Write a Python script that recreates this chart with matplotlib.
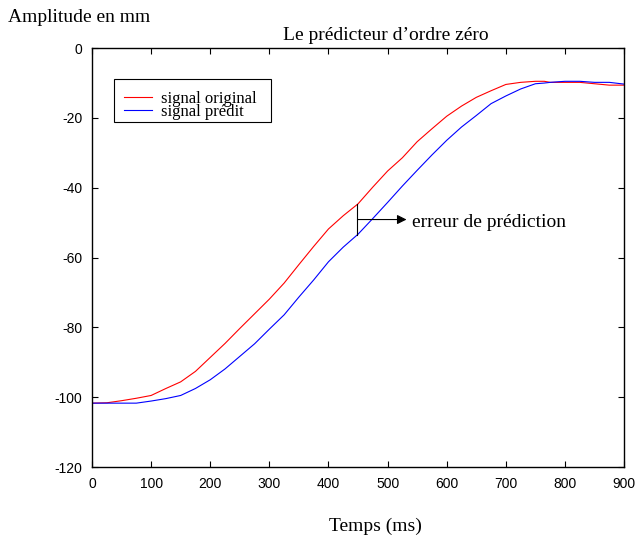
import matplotlib
matplotlib.use('Agg')
import matplotlib.pyplot as plt
from matplotlib.patches import Rectangle

plt.rcParams['axes.unicode_minus'] = False

# temps en ms, pas de 25 ms
temps = [0, 25, 50, 75, 100, 125, 150, 175, 200, 225, 250, 275, 300, 325, 350,
         375, 400, 425, 450, 475, 500, 525, 550, 575, 600, 625, 650, 675, 700,
         725, 750, 765, 775, 800, 825, 850, 875, 900]

original = [-101.7, -101.6, -101.0, -100.3, -99.5, -97.5, -95.6, -92.6, -88.6,
            -84.6, -80.3, -76.1, -71.9, -67.3, -62.0, -56.8, -51.8, -48.0, -44.6,
            -39.8, -35.2, -31.4, -26.8, -23.1, -19.5, -16.6, -14.1, -12.2, -10.4,
            -9.8, -9.5, -9.5, -9.8, -9.8, -9.8, -10.2, -10.6, -10.6]

predit = [-101.7, -101.7, -101.7, -101.7, -101.1, -100.4, -99.5, -97.5, -95.0,
          -91.9, -88.3, -84.7, -80.5, -76.4, -71.3, -66.4, -61.2, -57.0, -53.3,
          -48.8, -44.2, -39.5, -35.0, -30.6, -26.4, -22.6, -19.3, -15.9, -13.7,
          -11.7, -10.2, -10.0, -9.8, -9.5, -9.5, -9.8, -9.8, -10.3]

xticks = [0, 100, 200, 300, 400, 500, 600, 700, 800, 900]
yticks = [0, -20, -40, -60, -80, -100, -120]

serif = 'Liberation Serif'
sans = 'Liberation Sans'

fig = plt.figure(figsize=(6.38, 5.44), dpi=100)
ax = fig.add_axes([0.1442, 0.1415, 0.834, 0.770])

ax.plot(temps, original, color='red', lw=0.8, label='signal original')
ax.plot(temps, predit, color='blue', lw=0.8, label='signal prédit')

ax.set_xlim(0, 900)
ax.set_ylim(-120, 0)
ax.set_xticks(xticks)
ax.set_yticks(yticks)
ax.tick_params(direction='in', top=True, right=True, length=4, width=0.8,
               labelsize=10, pad=7)
for lab in ax.get_xticklabels() + ax.get_yticklabels():
    lab.set_fontfamily(sans)
for s in ax.spines.values():
    s.set_linewidth(1.0)

# erreur de prediction
ax.plot([449, 449], [-44.6, -53.6], color='black', lw=0.8)
ax.annotate('', xy=(532, -49.1), xytext=(449, -49.1),
            arrowprops=dict(arrowstyle='-|>', color='black', lw=0.8,
                            mutation_scale=14, shrinkA=0, shrinkB=0))
ax.text(541, -49.9, 'erreur de prédiction', fontsize=14, family=serif,
        va='center', ha='left')

# legende
ax.add_patch(Rectangle((0.041, 0.823), 0.295, 0.103, transform=ax.transAxes,
                       fill=False, edgecolor='black', lw=0.8))
leg = ax.legend(loc='lower left', bbox_to_anchor=(0.038, 0.800), frameon=False,
                prop={'family': serif, 'size': 12}, labelspacing=-0.15,
                handlelength=1.7, handletextpad=0.5, borderpad=0.2)

fig.text(0.012, 0.968, 'Amplitude en mm', fontsize=14, family=serif,
         va='center', ha='left')
fig.text(0.604, 0.934, 'Le prédicteur d\u2019ordre zéro', fontsize=14,
         family=serif, va='center', ha='center')
fig.text(0.588, 0.033, 'Temps (ms)', fontsize=14, family=serif,
         va='center', ha='center')

fig.savefig('out.png', dpi=100)
